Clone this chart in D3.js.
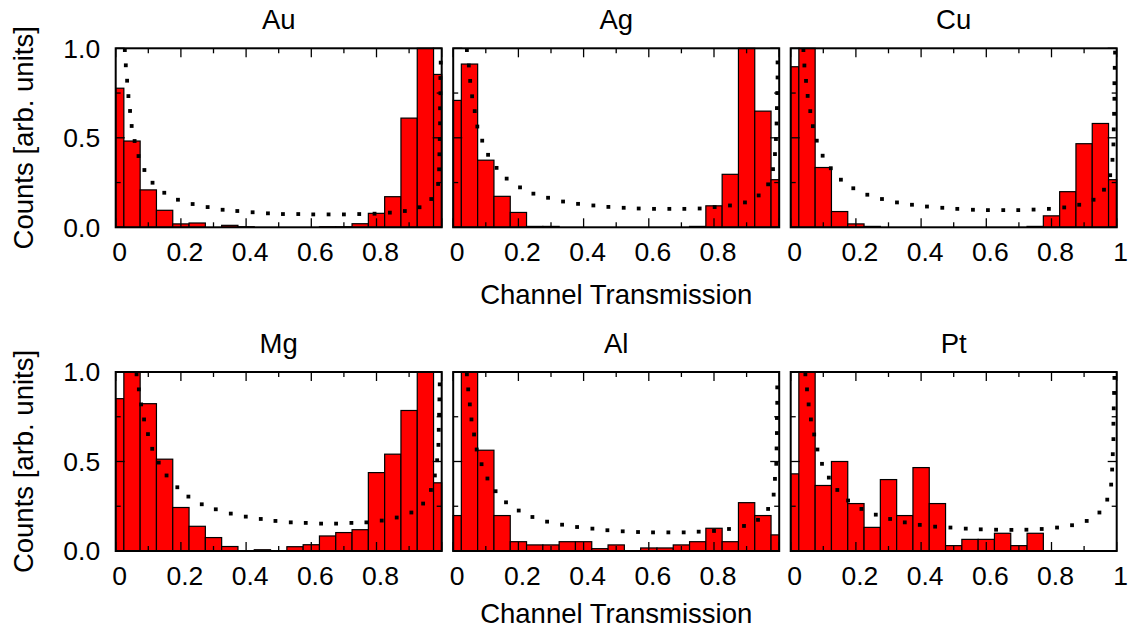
<!DOCTYPE html>
<html>
<head>
<meta charset="utf-8">
<script src="https://cdn.jsdelivr.net/npm/d3@7"></script>
<style>
  html, body { margin: 0; padding: 0; background: #fff; }
  svg { display: block; }
  text { font-family: "Liberation Sans", Arial, sans-serif; fill: #000; }
</style>
</head>
<body>
<svg id="chart" width="1134" height="633"></svg>
<script>
// ---------------- data ----------------
const panelNames = ["Au", "Ag", "Cu", "Mg", "Al", "Pt"];
const binCenters = [0, 0.05, 0.1, 0.15, 0.2, 0.25, 0.3, 0.35, 0.4, 0.45, 0.5,
                    0.55, 0.6, 0.65, 0.7, 0.75, 0.8, 0.85, 0.9, 0.95, 1.0];
const binWidth = 0.05;

const auCounts = [0.777, 0.482, 0.209, 0.095, 0.019, 0.024, 0, 0.011, 0.003, 0, 0, 0, 0, 0.003, 0.003, 0.020, 0.078, 0.171, 0.610, 1.0, 0.854];
const agCounts = [0.709, 0.912, 0.375, 0.173, 0.083, 0.005, 0.005, 0, 0, 0, 0, 0, 0, 0, 0, 0.005, 0.120, 0.296, 1.0, 0.649, 0.266];
const cuCounts = [0.897, 1.0, 0.334, 0.088, 0.019, 0.005, 0, 0, 0, 0, 0, 0, 0, 0, 0, 0.005, 0.064, 0.199, 0.467, 0.580, 0.266];
const mgCounts = [0.851, 1.0, 0.823, 0.513, 0.243, 0.138, 0.075, 0.025, 0, 0.007, 0, 0.024, 0.035, 0.084, 0.103, 0.119, 0.438, 0.541, 0.785, 1.0, 0.381];
const alCounts = [0.198, 1.0, 0.563, 0.198, 0.052, 0.034, 0.034, 0.052, 0.052, 0.013, 0.034, 0, 0.017, 0.017, 0.034, 0.052, 0.127, 0.052, 0.270, 0.198, 0.090];
const ptCounts = [0.431, 1.0, 0.366, 0.500, 0.265, 0.132, 0.399, 0.198, 0.466, 0.265, 0.030, 0.065, 0.065, 0.099, 0.030, 0.099, 0, 0, 0, 0, 0];

// dotted theory curves
const auFitX = [0.028, 0.031, 0.035, 0.039, 0.044, 0.049, 0.058, 0.070, 0.088, 0.113, 0.149, 0.191, 0.236, 0.282, 0.328, 0.373, 0.420, 0.467, 0.513, 0.560, 0.606, 0.653, 0.700, 0.747, 0.794, 0.841, 0.887, 0.932, 0.968, 0.989, 0.992, 0.993, 0.994, 0.995, 0.995, 0.996, 0.996, 0.997];
const auFitY = [0.990, 0.905, 0.819, 0.733, 0.650, 0.566, 0.482, 0.398, 0.320, 0.249, 0.193, 0.154, 0.130, 0.113, 0.098, 0.091, 0.084, 0.078, 0.074, 0.074, 0.072, 0.072, 0.072, 0.074, 0.076, 0.082, 0.091, 0.112, 0.158, 0.242, 0.324, 0.408, 0.493, 0.581, 0.665, 0.749, 0.834, 0.920];
const agFitX = [0.042, 0.048, 0.052, 0.058, 0.066, 0.074, 0.089, 0.107, 0.133, 0.164, 0.205, 0.246, 0.291, 0.337, 0.383, 0.430, 0.476, 0.523, 0.569, 0.616, 0.663, 0.709, 0.756, 0.802, 0.849, 0.895, 0.937, 0.966, 0.981, 0.987, 0.990, 0.992, 0.993, 0.994, 0.995, 0.995];
const agFitY = [0.990, 0.904, 0.818, 0.732, 0.649, 0.563, 0.484, 0.405, 0.332, 0.272, 0.223, 0.188, 0.165, 0.144, 0.131, 0.122, 0.114, 0.109, 0.105, 0.103, 0.103, 0.103, 0.105, 0.113, 0.122, 0.139, 0.178, 0.240, 0.325, 0.409, 0.493, 0.580, 0.666, 0.750, 0.837, 0.921];
const cuFitX = [0.039, 0.042, 0.047, 0.052, 0.060, 0.068, 0.080, 0.098, 0.123, 0.154, 0.192, 0.235, 0.280, 0.326, 0.372, 0.418, 0.465, 0.511, 0.559, 0.605, 0.652, 0.698, 0.745, 0.792, 0.839, 0.885, 0.929, 0.961, 0.980, 0.987, 0.990, 0.991, 0.992, 0.993, 0.993, 0.994, 0.995];
const cuFitY = [0.990, 0.904, 0.818, 0.734, 0.649, 0.565, 0.484, 0.400, 0.330, 0.266, 0.218, 0.182, 0.158, 0.139, 0.126, 0.116, 0.109, 0.103, 0.098, 0.096, 0.096, 0.096, 0.099, 0.103, 0.111, 0.126, 0.154, 0.210, 0.291, 0.377, 0.463, 0.547, 0.634, 0.718, 0.805, 0.891, 0.976];
const mgFitX = [0.064, 0.071, 0.078, 0.087, 0.099, 0.112, 0.132, 0.156, 0.189, 0.223, 0.264, 0.307, 0.353, 0.399, 0.445, 0.490, 0.537, 0.583, 0.630, 0.676, 0.723, 0.769, 0.816, 0.862, 0.907, 0.943, 0.967, 0.979, 0.986, 0.990, 0.991, 0.992, 0.993, 0.994];
const mgFitY = [0.987, 0.903, 0.819, 0.735, 0.653, 0.571, 0.494, 0.422, 0.356, 0.304, 0.261, 0.233, 0.209, 0.192, 0.179, 0.168, 0.160, 0.157, 0.153, 0.153, 0.157, 0.160, 0.170, 0.187, 0.215, 0.265, 0.341, 0.422, 0.507, 0.593, 0.677, 0.761, 0.847, 0.931];
const alFitX = [0.042, 0.046, 0.051, 0.056, 0.064, 0.072, 0.087, 0.105, 0.130, 0.162, 0.201, 0.243, 0.288, 0.334, 0.380, 0.427, 0.473, 0.520, 0.567, 0.613, 0.660, 0.707, 0.753, 0.800, 0.846, 0.892, 0.935, 0.966, 0.983, 0.987, 0.991, 0.992, 0.993, 0.993, 0.994, 0.994];
const alFitY = [0.987, 0.903, 0.819, 0.735, 0.651, 0.567, 0.485, 0.405, 0.334, 0.272, 0.226, 0.190, 0.164, 0.147, 0.134, 0.125, 0.116, 0.110, 0.106, 0.104, 0.104, 0.104, 0.108, 0.112, 0.123, 0.140, 0.174, 0.235, 0.315, 0.403, 0.487, 0.573, 0.659, 0.743, 0.828, 0.914];
const ptFitX = [0.045, 0.050, 0.055, 0.062, 0.072, 0.082, 0.096, 0.117, 0.143, 0.176, 0.217, 0.261, 0.305, 0.350, 0.396, 0.443, 0.490, 0.537, 0.583, 0.630, 0.677, 0.723, 0.770, 0.817, 0.863, 0.908, 0.947, 0.971, 0.983, 0.986, 0.988, 0.990, 0.990, 0.991, 0.992, 0.993];
const ptFitY = [0.987, 0.903, 0.819, 0.735, 0.651, 0.567, 0.487, 0.410, 0.341, 0.282, 0.235, 0.203, 0.179, 0.160, 0.146, 0.136, 0.131, 0.125, 0.121, 0.119, 0.118, 0.119, 0.123, 0.131, 0.144, 0.168, 0.215, 0.287, 0.371, 0.455, 0.541, 0.625, 0.711, 0.797, 0.883, 0.967];

const xMajorTicks = [0, 0.2, 0.4, 0.6, 0.8, 1];
const xMinorTicks = [0.1, 0.3, 0.5, 0.7, 0.9];
const yMajorTicks = [0, 0.5, 1];
const yMinorTicks = [0.25, 0.75];
const xLabel = "Channel Transmission";
const yLabel = "Counts [arb. units]";

const countsList = [auCounts, agCounts, cuCounts, mgCounts, alCounts, ptCounts];
const fitXList = [auFitX, agFitX, cuFitX, mgFitX, alFitX, ptFitX];
const fitYList = [auFitY, agFitY, cuFitY, mgFitY, alFitY, ptFitY];

// ---------------- layout ----------------
const svg = d3.select("#chart");
const TICKFONT = 26.5;
const LABELFONT = 27.5;
const panelW = 326;
const colLeft = [115.7, 453.2, 790.7];
const rowTop = [48.3, 372];
const panelH = 179;

panelNames.forEach((name, i) => {
  const col = i % 3, row = Math.floor(i / 3);
  const left = colLeft[col], top = rowTop[row];
  const x = d3.scaleLinear().domain([0, 1]).range([left, left + panelW]);
  const y = d3.scaleLinear().domain([0, 1]).range([top + panelH, top]);
  const g = svg.append("g");

  const bars = binCenters.map((c, k) => ({
    x0: Math.max(0, c - binWidth / 2),
    x1: Math.min(1, c + binWidth / 2),
    v: countsList[i][k]
  })).filter(d => d.v > 0);

  g.selectAll("rect.bar").data(bars).enter().append("rect")
    .attr("class", "bar")
    .attr("x", d => x(d.x0))
    .attr("width", d => x(d.x1) - x(d.x0))
    .attr("y", d => y(d.v))
    .attr("height", d => y(0) - y(d.v))
    .attr("fill", "#ff0000")
    .attr("stroke", "#000")
    .attr("stroke-width", 1.2);

  // dotted fit curve
  const pts = fitXList[i].map((fx, k) => [fx, fitYList[i][k]]);
  const ds = 3.8;
  g.selectAll("rect.dot").data(pts).enter().append("rect")
    .attr("class", "dot")
    .attr("x", d => x(d[0]) - ds / 2)
    .attr("y", d => y(d[1]) - ds / 2)
    .attr("width", ds).attr("height", ds)
    .attr("fill", "#000");

  // ticks (inward, all four sides)
  const tk = g.append("g").attr("stroke", "#000").attr("stroke-width", 1.3);
  const addX = (vals, len) => vals.forEach(v => {
    tk.append("line").attr("x1", x(v)).attr("x2", x(v)).attr("y1", y(0)).attr("y2", y(0) - len);
    tk.append("line").attr("x1", x(v)).attr("x2", x(v)).attr("y1", y(1)).attr("y2", y(1) + len);
  });
  const addY = (vals, len) => vals.forEach(v => {
    tk.append("line").attr("x1", x(0)).attr("x2", x(0) + len).attr("y1", y(v)).attr("y2", y(v));
    tk.append("line").attr("x1", x(1)).attr("x2", x(1) - len).attr("y1", y(v)).attr("y2", y(v));
  });
  addX(xMajorTicks, 9); addX(xMinorTicks, 5);
  addY(yMajorTicks, 9); addY(yMinorTicks, 5);

  // frame
  g.append("rect")
    .attr("x", x(0)).attr("y", y(1))
    .attr("width", x(1) - x(0)).attr("height", y(0) - y(1))
    .attr("fill", "none").attr("stroke", "#000").attr("stroke-width", 2);

  // x tick labels
  const xl = col === 2 ? xMajorTicks : xMajorTicks.slice(0, 5);
  g.selectAll("text.xt").data(xl).enter().append("text")
    .attr("class", "xt")
    .attr("x", d => x(d) + 4)
    .attr("y", y(0) + 33.6)
    .attr("text-anchor", "middle")
    .attr("font-size", TICKFONT)
    .text(d => d === 0 ? "0" : d === 1 ? "1" : d3.format(".1f")(d));

  // y tick labels on left column
  if (col === 0) {
    g.selectAll("text.yt").data(yMajorTicks).enter().append("text")
      .attr("class", "yt")
      .attr("x", left - 15.5)
      .attr("y", d => y(d) + 9.4)
      .attr("text-anchor", "end")
      .attr("font-size", TICKFONT)
      .text(d => d3.format(".1f")(d));
    svg.append("text")
      .attr("transform", `translate(33,${top + panelH / 2}) rotate(-90)`)
      .attr("text-anchor", "middle")
      .attr("font-size", LABELFONT)
      .text(yLabel);
  }

  // panel title
  svg.append("text")
    .attr("x", left + panelW / 2)
    .attr("y", top - 19.5)
    .attr("text-anchor", "middle")
    .attr("font-size", LABELFONT)
    .text(name);
});

// x axis labels per row
[304, 623].forEach(yy => {
  svg.append("text")
    .attr("x", (colLeft[0] + colLeft[2] + panelW) / 2)
    .attr("y", yy)
    .attr("text-anchor", "middle")
    .attr("font-size", LABELFONT)
    .text(xLabel);
});
</script>
</body>
</html>
